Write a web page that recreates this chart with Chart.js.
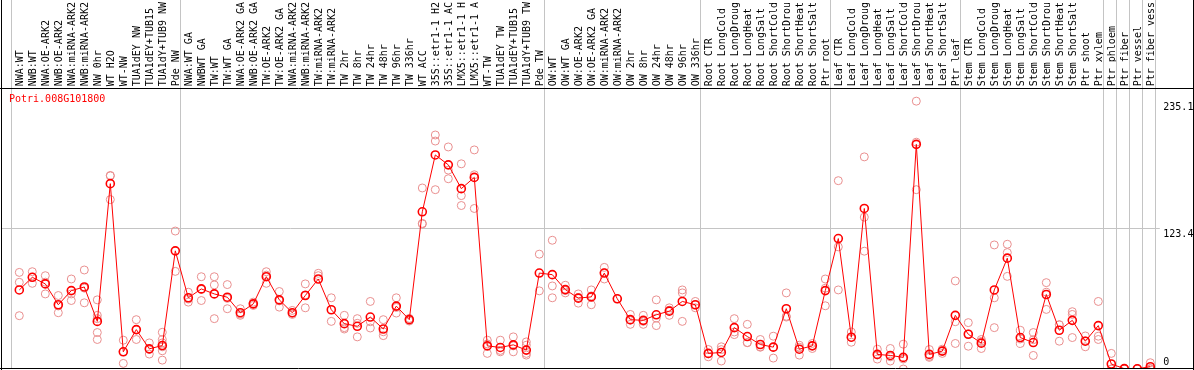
<!DOCTYPE html>
<html>
<head>
<meta charset="utf-8">
<script src="https://cdn.jsdelivr.net/npm/chart.js@4"></script>
<style>
  html, body { margin: 0; padding: 0; background: #fff; }
  #wrap { width: 1194px; height: 370px; }
</style>
</head>
<body>
<div id="wrap"><canvas id="chart" width="1194" height="370"></canvas></div>
<script>
// gene shown in the panel
const geneId = 'Potri.008G101800';

// sample names (displayed cut to 14 characters)
const sampleLabels = [
  'NWA:WT', 'NWB:WT', 'NWA:OE-ARK2', 'NWB:OE-ARK2', 'NWA:miRNA-ARK2', 'NWB:miRNA-ARK2',
  'NW 0hr', 'WT H2O', 'WT-NW', 'TUA1dEY NW', 'TUA1dEY+TUB15 NW', 'TUA1dY+TUB9 NW', 'Pde NW',
  'NWA:WT GA', 'NWBWT GA', 'TW:WT', 'TW:WT GA', 'NWA:OE-ARK2 GA', 'NWB:OE-ARK2 GA',
  'TW:OE-ARK2', 'TW:OE-ARK2 GA', 'NWA:miRNA-ARK2', 'NWB:miRNA-ARK2', 'TW:miRNA-ARK2',
  'TW:miRNA-ARK2', 'TW 2hr', 'TW 8hr', 'TW 24hr', 'TW 48hr', 'TW 96hr', 'TW 336hr',
  'WT ACC', '35S::etr1-1 H2O', '35S::etr1-1 ACC', 'LMX5::etr1-1 H2O', 'LMX5::etr1-1 ACC',
  'WT-TW', 'TUA1dEY TW', 'TUA1dEY+TUB15 TW', 'TUA1dY+TUB9 TW', 'Pde TW',
  'OW:WT', 'OW:WT GA', 'OW:OE-ARK2', 'OW:OE-ARK2 GA', 'OW:miRNA-ARK2', 'OW:miRNA-ARK2',
  'OW 2hr', 'OW 8hr', 'OW 24hr', 'OW 48hr', 'OW 96hr', 'OW 336hr',
  'Root CTR', 'Root LongCold', 'Root LongDrought', 'Root LongHeat', 'Root LongSalt',
  'Root ShortCold', 'Root ShortDrought', 'Root ShortHeat', 'Root ShortSalt', 'Ptr root',
  'Leaf CTR', 'Leaf LongCold', 'Leaf LongDrought', 'Leaf LongHeat', 'Leaf LongSalt',
  'Leaf ShortCold', 'Leaf ShortDrought', 'Leaf ShortHeat', 'Leaf ShortSalt', 'Ptr leaf',
  'Stem CTR', 'Stem LongCold', 'Stem LongDrought', 'Stem LongHeat', 'Stem LongSalt',
  'Stem ShortCold', 'Stem ShortDrought', 'Stem ShortHeat', 'Stem ShortSalt', 'Ptr shoot',
  'Ptr xylem', 'Ptr phloem', 'Ptr fiber', 'Ptr vessel', 'Ptr fiber vessel'
];

// mean expression per sample
const meanValues = [
  69.4, 80.5, 74.7, 56.4, 68.8, 72.0, 41.8, 162.7, 15.1, 34.6, 17.7, 20.6, 103.7,
  62.5, 70.3, 65.9, 63.0, 49.4, 57.2, 81.0, 60.7, 49.4, 64.5, 79.0, 52.0, 39.8, 37.5,
  45.6, 35.1, 55.2, 43.3, 138.0, 187.9, 179.2, 158.3, 168.2, 20.3, 18.9, 21.2, 16.6, 84.2,
  82.8, 69.7, 62.2, 63.3, 84.2, 61.6, 43.3, 42.7, 47.6, 50.8, 59.3, 56.4,
  13.7, 14.5, 36.3, 28.5, 21.5, 19.2, 52.9, 17.4, 20.3, 68.8,
  114.5, 27.9, 140.9, 12.8, 11.9, 10.2, 197.2, 12.8, 15.7, 47.1,
  30.5, 22.7, 69.4, 97.3, 27.6, 23.2, 65.4, 34.0, 42.7, 24.4,
  38.1, 4.4, 0.3, 0.2, 2.0
];

// single replicates per sample
const replicateValues = [
  [84.8, 76.1, 46.8], [85.4, 80.5, 75.2], [81.9, 76.2, 65.9], [64.5, 55.3, 49.4],
  [79.0, 65.9, 60.1], [86.9, 71.0, 58.1], [60.7, 47.1, 44.2, 32.0, 25.9],
  [169.9, 169.5, 148.7], [25.3, 15.1, 4.9], [43.3, 34.6, 25.9], [22.9, 17.2, 13.1],
  [32.2, 25.9, 22.9, 19.5, 16.0, 7.8], [121.1, 85.7],
  [67.4, 61.4, 58.7], [81.0, 69.8, 60.1], [81.0, 73.8, 44.2], [74.1, 62.0, 52.9],
  [52.9, 48.2, 47.1], [58.7, 57.1, 55.8], [85.4, 82.4, 75.2], [68.0, 59.8, 54.3],
  [51.4, 48.9, 47.9], [74.7, 65.1, 53.7], [84.0, 81.9], [62.5, 41.8],
  [47.1, 36.3, 35.1], [44.2, 40.1, 28.2], [59.3, 41.5, 36.0], [43.3, 32.7, 29.3],
  [62.5, 54.0, 49.1], [44.4, 43.3, 42.1], [158.9, 127.8, 127.3], [205.4, 200.1, 157.4],
  [194.9, 174.6, 167.0], [180.1, 152.2, 143.5], [192.3, 170.5, 140.9],
  [25.3, 22.0, 13.7], [25.3, 16.3, 15.1], [28.2, 20.3, 15.1], [23.8, 20.9, 13.7, 12.2],
  [100.8, 68.6],
  [113.0, 72.9, 62.5], [73.5, 68.9, 66.8], [65.9, 62.8, 57.8], [69.4, 64.2, 56.4],
  [89.2, 84.5, 79.0], [61.6], [47.9, 42.8, 39.2], [47.1, 41.8, 39.2], [60.7, 44.7, 38.1],
  [53.7, 51.6, 47.1], [69.4, 66.8, 41.8], [59.3, 56.2, 53.7],
  [17.1, 13.3, 10.7], [19.5, 17.0, 7.0], [44.2, 32.5, 30.2], [39.2, 23.2, 23.1],
  [25.9, 19.5, 19.1], [28.8, 19.2, 9.6], [66.8, 46.3, 45.6], [20.9, 19.1, 12.2],
  [22.4, 20.5, 18.0], [79.0, 70.9, 55.5],
  [165.3, 107.2, 69.4], [32.5, 27.7, 23.5], [186.2, 133.3, 103.4], [17.4, 12.3, 8.7],
  [18.0, 10.7, 7.0], [21.8, 8.8, 0.0], [235.1, 199.1, 157.4], [17.1, 11.1, 10.2],
  [17.4, 16.0, 13.7], [77.3, 41.5, 22.4],
  [40.7, 30.8, 20.0], [25.9, 24.2, 18.0], [108.9, 62.5, 36.3], [109.5, 102.2, 81.3],
  [34.0, 26.4, 22.4], [32.0, 25.7, 11.9], [75.8, 67.4, 52.3], [38.9, 38.7, 24.4],
  [50.3, 47.9, 27.6], [29.0, 24.7, 19.5],
  [59.3, 28.8, 25.9], [13.7, 0.0, 0.0], [0.5, 0.2, 0.0], [0.4, 0.1, 0.0], [5.5, 0.5, 0.0]
];

// value labels on the right side
const yTickValues = [0, 123.4, 235.1];
const yGridValue = 123.4;

// indexes of samples that start a new block (88 = end)
const groupStarts = [0, 13, 41, 53, 63, 73, 84, 85, 86, 87, 88];

const MONO = "'DejaVu Sans Mono', 'Liberation Mono', monospace";

// frame, separators, value labels and gene name
const panelPlugin = {
  id: 'panel',
  beforeDatasetsDraw(chart) {
    const { ctx, chartArea, scales } = chart;
    const xs = scales.x, ys = scales.y;
    ctx.save();
    ctx.strokeStyle = '#c4c4c4';
    ctx.lineWidth = 1;
    groupStarts.forEach(k => {
      const px = Math.round(xs.getPixelForValue(k - 0.5)) - 1.5;
      ctx.beginPath();
      ctx.moveTo(px, 0);
      ctx.lineTo(px, chartArea.bottom);
      ctx.stroke();
    });
    const gy = Math.round(ys.getPixelForValue(yGridValue)) + 0.5;
    ctx.beginPath();
    ctx.moveTo(1, gy);
    ctx.lineTo(chartArea.right + 3, gy);
    ctx.stroke();
    ctx.restore();
  },
  afterDraw(chart) {
    const { ctx, chartArea, scales, width, height } = chart;
    const ys = scales.y;
    ctx.save();
    ctx.strokeStyle = '#000';
    ctx.lineWidth = 1;
    const top = Math.round(chartArea.top) + 0.5;
    const bottom = Math.round(chartArea.bottom) - 0.5;
    ctx.beginPath();
    ctx.moveTo(0, top); ctx.lineTo(width, top);
    ctx.moveTo(0, bottom); ctx.lineTo(width, bottom);
    ctx.moveTo(1.5, 0); ctx.lineTo(1.5, height);
    ctx.moveTo(width - 0.5, 0); ctx.lineTo(width - 0.5, height);
    ctx.stroke();

    ctx.font = '10px ' + MONO;
    ctx.fillStyle = '#000';
    ctx.textAlign = 'left';
    ctx.textBaseline = 'middle';
    yTickValues.forEach(v => {
      let py = ys.getPixelForValue(v) + 6;
      py = Math.min(py, chartArea.bottom - 7);
      ctx.fillText(String(v), chartArea.right + 6.5, py);
    });

    ctx.fillStyle = '#ff0000';
    ctx.fillText(geneId, 9, chartArea.top + 11);
    ctx.restore();
  }
};

const maxReps = Math.max(...replicateValues.map(r => r.length));
const repDatasets = [];
for (let k = 0; k < maxReps; k++) {
  repDatasets.push({
    label: 'rep' + (k + 1),
    data: replicateValues.map(r => (r[k] === undefined ? null : r[k])),
    showLine: false,
    pointRadius: 4,
    pointBorderWidth: 1,
    pointBorderColor: '#e98f8f',
    pointBackgroundColor: 'rgba(0,0,0,0)'
  });
}

new Chart(document.getElementById('chart'), {
  type: 'line',
  data: {
    labels: sampleLabels,
    datasets: [{
      label: 'mean',
      data: meanValues,
      borderColor: '#ff0000',
      borderWidth: 1,
      tension: 0,
      pointRadius: 4,
      pointBorderWidth: 1.6,
      pointBorderColor: '#ff0000',
      pointBackgroundColor: 'rgba(0,0,0,0)'
    }, ...repDatasets]
  },
  options: {
    responsive: false,
    animation: false,
    layout: { autoPadding: false, padding: { left: 12.8, right: 37.2, top: 0, bottom: 1 } },
    plugins: {
      legend: { display: false },
      tooltip: { enabled: false }
    },
    scales: {
      x: {
        type: 'category',
        position: 'top',
        offset: true,
        grid: { display: false, drawTicks: false },
        border: { display: false },
        ticks: {
          autoSkip: false,
          minRotation: 90,
          maxRotation: 90,
          padding: 2,
          labelOffset: 13,
          color: '#000',
          font: { family: MONO, size: 10 },
          callback: (value, index) => sampleLabels[index].slice(0, 14)
        }
      },
      y: {
        display: false,
        min: 0,
        max: 246.4
      }
    }
  },
  plugins: [panelPlugin]
});
</script>
</body>
</html>
